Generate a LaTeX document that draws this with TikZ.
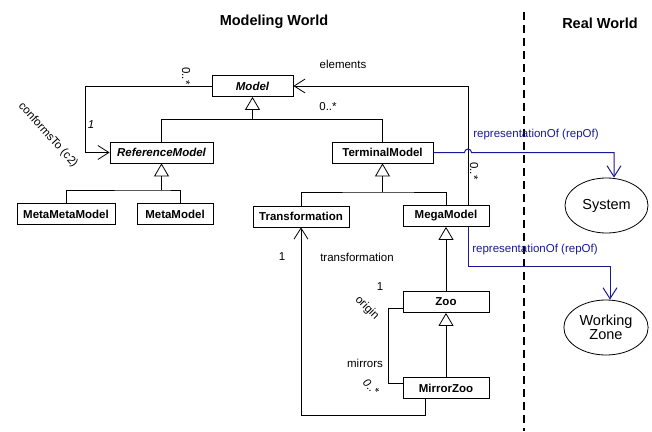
\documentclass[tikz,border=0pt]{standalone}
\usepackage{fontspec}
\setmainfont{Liberation Sans}
\usepackage{tikz}
\usetikzlibrary{positioning}
\usetikzlibrary{arrows.meta}
\usetikzlibrary{shapes.geometric}
\definecolor{repblue}{RGB}{25,25,150}
\tikzstyle{cls} = [draw, line width=0.8pt, fill=white, minimum height=21pt, inner sep=2pt, font=\fontsize{11.5}{13}\selectfont\bfseries]
\tikzstyle{abscls} = [cls, font=\fontsize{11.5}{13}\selectfont\bfseries\itshape]
\tikzstyle{thing} = [draw, ellipse, line width=0.8pt, align=center, font=\fontsize{14.5}{16}\selectfont]
\tikzstyle{lbl} = [inner sep=1pt, font=\fontsize{11.5}{13}\selectfont]
\tikzstyle{inherit} = [-{Triangle[open,length=13pt,width=15pt]}, line width=0.8pt]
\tikzstyle{assoc} = [-{Straight Barb[length=11pt,width=14pt]}, line width=0.8pt]
\tikzstyle{rep} = [-{Straight Barb[length=11pt,width=14pt]}, line width=1pt, draw=repblue]

\begin{document}
\begin{tikzpicture}[x=1pt, y=-1pt]

    \useasboundingbox (0,0) rectangle (652,431);

    \node[font=\fontsize{14.5}{16}\selectfont\bfseries] (modworld) at (274,22) {Modeling World};
    \node[font=\fontsize{14.5}{16}\selectfont\bfseries] (realworld) at (600,23) {Real World};
    \draw[line width=2pt, dash pattern=on 8pt off 5pt] (524,12) -- (524,431);

    % classes
    \node[abscls, minimum width=81pt] (model) at (252.5,86) {Model};
    \node[abscls, minimum width=103pt] (refm) at (161.5,152.5) {ReferenceModel};
    \node[cls, minimum width=101pt] (termm) at (382.5,152.5) {TerminalModel};
    \node[cls, minimum width=98pt] (mmm) at (66,214) {MetaMetaModel};
    \node[cls, minimum width=76pt] (metam) at (175,214) {MetaModel};
    \node[cls, minimum width=96pt] (trans) at (301,216.5) {Transformation};
    \node[cls, minimum width=86pt] (megam) at (446,216) {MegaModel};
    \node[cls, minimum width=86pt] (zoo) at (446,302) {Zoo};
    \node[cls, minimum width=86pt] (mirror) at (446,388) {MirrorZoo};

    % real world
    \node[thing, minimum width=83pt, minimum height=55pt] (system) at (606.5,205.5) {System};
    \node[thing, minimum width=80pt, minimum height=55pt] (wzone) at (606,327.5) {Working\\[-2pt]Zone};

    % inheritance
    \coordinate (jm) at (252.5,119);
    \draw[line width=0.8pt] (refm.north) -- (refm.north |- jm) -- (termm.north |- jm) -- (termm.north);
    \draw[inherit] (jm) -- (model.south);

    \coordinate (jr) at (161.5,190);
    \draw[line width=0.8pt] (mmm.north) |- (jr) -| ([xshift=5pt]metam.north);
    \draw[inherit] (jr) -- (refm.south);

    \coordinate (jt) at (382.5,192);
    \draw[line width=0.8pt] (trans.north) |- (jt) -| (megam.north);
    \draw[inherit] (jt) -- (termm.south);

    \draw[inherit] (zoo.north) -- (megam.south);
    \draw[inherit] (mirror.north) -- (zoo.south);

    % conformsTo
    \coordinate (cf) at (85,152.5);
    \draw[assoc] (model.west) -| (cf) -- (refm.west);
    \node[lbl, rotate=-90] (cfmany) at (186,76) {0..*};
    \node[lbl, font=\fontsize{11.5}{13}\selectfont\itshape] (cfone) at (91,125) {1};
    \node[lbl, rotate=-48] (cflbl) at (48,135) {conformsTo (c2)};

    % elements
    \draw[assoc] ([xshift=22pt]megam.north) |- (model.east);
    \node[lbl] (ellbl) at (343,64) {elements};
    \node[lbl] (elmany) at (328,107) {0..*};
    \node[lbl, rotate=-90] (megmany) at (474,171) {0..*};

    % representationOf
    \coordinate (rs) at (614,152.5);
    \draw[rep] (termm.east) -- (464.5,152.5) arc(180:360:3.5) -- (rs) -- (rs |- system.north);
    \node[lbl, text=repblue] (replbl1) at (536,135) {representationOf (repOf)};

    \coordinate (rw) at (610,266);
    \draw[rep] ([xshift=22pt]megam.south) |- (rw) -- (rw |- wzone.north);
    \node[lbl, text=repblue] (replbl2) at (535,250) {representationOf (repOf)};

    % transformation
    \coordinate (tb) at (301,415);
    \draw[assoc] ([xshift=-21pt]mirror.south) |- (tb) -- (trans.south);
    \node[lbl] (trone) at (282,257) {1};
    \node[lbl] (trlbl) at (357,257) {transformation};

    % mirrors
    \draw[line width=0.8pt] ([yshift=-6pt]zoo.west) -- ++(-14,0) |- ([yshift=5pt]mirror.west);
    \node[lbl] (orone) at (380,287) {1};
    \node[lbl, rotate=-45] (orlbl) at (367,308) {origin};
    \node[lbl] (mirlbl) at (365,363) {mirrors};
    \node[lbl, rotate=-45, font=\fontsize{11.5}{13}\selectfont\itshape] (mirmany) at (371,387) {0..*};

\end{tikzpicture}
\end{document}
